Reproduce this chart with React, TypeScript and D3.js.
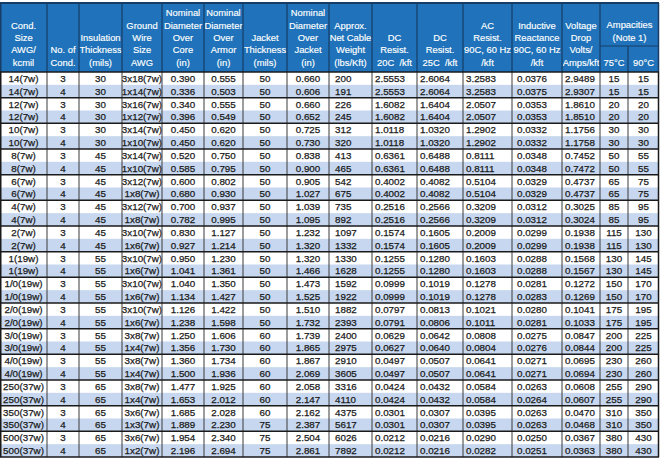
import React from "react";
import * as d3 from "d3";

// cable data, one entry per table row
const condSize = [
  "14(7w)", "14(7w)", "12(7w)", "12(7w)", "10(7w)", "10(7w)", "8(7w)", "8(7w)",
  "6(7w)", "6(7w)", "4(7w)", "4(7w)", "2(7w)", "2(7w)", "1(19w)", "1(19w)",
  "1/0(19w)", "1/0(19w)", "2/0(19w)", "2/0(19w)", "3/0(19w)", "3/0(19w)",
  "4/0(19w)", "4/0(19w)", "250(37w)", "250(37w)", "350(37w)", "350(37w)",
  "500(37w)", "500(37w)",
];
const numCond = [3, 4, 3, 4, 3, 4, 3, 4, 3, 4, 3, 4, 3, 4, 3, 4, 3, 4, 3, 4, 3, 4, 3, 4, 3, 4, 3, 4, 3, 4];
const insulation = [30, 30, 30, 30, 30, 30, 45, 45, 45, 45, 45, 45, 45, 45, 55, 55, 55, 55, 55, 55, 55, 55, 55, 55, 65, 65, 65, 65, 65, 65];
const groundWire = [
  "3x18(7w)", "1x14(7w)", "3x16(7w)", "1x12(7w)", "3x14(7w)", "1x10(7w)", "3x14(7w)", "1x10(7w)",
  "3x12(7w)", "1x8(7w)", "3x12(7w)", "1x8(7w)", "3x10(7w)", "1x6(7w)", "3x10(7w)", "1x6(7w)",
  "3x10(7w)", "1x6(7w)", "3x10(7w)", "1x6(7w)", "3x8(7w)", "1x4(7w)", "3x8(7w)", "1x4(7w)",
  "3x8(7w)", "1x4(7w)", "3x6(7w)", "1x3(7w)", "3x6(7w)", "1x2(7w)",
];
const diaCore = [0.390, 0.336, 0.340, 0.396, 0.450, 0.450, 0.520, 0.585, 0.600, 0.680, 0.700, 0.782, 0.830, 0.927, 0.950, 1.041, 1.040, 1.134, 1.126, 1.238, 1.250, 1.356, 1.360, 1.500, 1.477, 1.653, 1.685, 1.889, 1.954, 2.196];
const diaArmor = [0.555, 0.503, 0.555, 0.549, 0.620, 0.620, 0.750, 0.795, 0.802, 0.930, 0.937, 0.995, 1.127, 1.214, 1.230, 1.361, 1.350, 1.427, 1.422, 1.598, 1.606, 1.730, 1.734, 1.936, 1.925, 2.012, 2.028, 2.230, 2.340, 2.694];
const jacketThk = [50, 50, 50, 50, 50, 50, 50, 50, 50, 50, 50, 50, 50, 50, 50, 50, 50, 50, 50, 50, 60, 60, 60, 60, 60, 60, 60, 75, 75, 75];
const diaJacket = [0.660, 0.606, 0.660, 0.652, 0.725, 0.730, 0.838, 0.900, 0.905, 1.027, 1.039, 1.095, 1.232, 1.320, 1.320, 1.466, 1.473, 1.525, 1.510, 1.732, 1.739, 1.865, 1.867, 2.069, 2.058, 2.147, 2.162, 2.387, 2.504, 2.861];
const weight = [200, 191, 226, 245, 312, 320, 413, 465, 542, 675, 735, 892, 1097, 1332, 1330, 1628, 1592, 1922, 1882, 2393, 2400, 2975, 2910, 3605, 3316, 4110, 4375, 5617, 6026, 7892];
const dcRes20 = [2.5553, 2.5553, 1.6082, 1.6082, 1.0118, 1.0118, 0.6361, 0.6361, 0.4002, 0.4002, 0.2516, 0.2516, 0.1574, 0.1574, 0.1255, 0.1255, 0.0999, 0.0999, 0.0797, 0.0791, 0.0629, 0.0627, 0.0497, 0.0497, 0.0424, 0.0424, 0.0301, 0.0301, 0.0212, 0.0212];
const dcRes25 = [2.6064, 2.6064, 1.6404, 1.6404, 1.0320, 1.0320, 0.6488, 0.6488, 0.4082, 0.4082, 0.2566, 0.2566, 0.1605, 0.1605, 0.1280, 0.1280, 0.1019, 0.1019, 0.0813, 0.0806, 0.0642, 0.0640, 0.0507, 0.0507, 0.0432, 0.0432, 0.0307, 0.0307, 0.0216, 0.0216];
const acRes = [3.2583, 3.2583, 2.0507, 2.0507, 1.2902, 1.2902, 0.8111, 0.8111, 0.5104, 0.5104, 0.3209, 0.3209, 0.2009, 0.2009, 0.1603, 0.1603, 0.1278, 0.1278, 0.1021, 0.1011, 0.0808, 0.0804, 0.0641, 0.0641, 0.0584, 0.0584, 0.0395, 0.0395, 0.0290, 0.0282];
const reactance = [0.0376, 0.0375, 0.0353, 0.0353, 0.0332, 0.0332, 0.0348, 0.0348, 0.0329, 0.0329, 0.0312, 0.0312, 0.0299, 0.0299, 0.0288, 0.0288, 0.0281, 0.0283, 0.0280, 0.0281, 0.0275, 0.0276, 0.0271, 0.0271, 0.0263, 0.0264, 0.0263, 0.0263, 0.0250, 0.0251];
const vDrop = [2.9489, 2.9307, 1.8610, 1.8510, 1.1756, 1.1758, 0.7452, 0.7472, 0.4737, 0.4737, 0.3025, 0.3024, 0.1938, 0.1938, 0.1568, 0.1567, 0.1272, 0.1269, 0.1041, 0.1033, 0.0847, 0.0844, 0.0695, 0.0694, 0.0608, 0.0607, 0.0470, 0.0468, 0.0367, 0.0363];
const amp75 = [15, 15, 20, 20, 30, 30, 50, 50, 65, 65, 85, 85, 115, 115, 130, 130, 150, 150, 175, 175, 200, 200, 230, 230, 255, 255, 310, 310, 380, 380];
const amp90 = [15, 15, 20, 20, 30, 30, 55, 55, 75, 75, 95, 95, 130, 130, 145, 145, 170, 170, 195, 195, 225, 225, 260, 260, 290, 290, 350, 350, 430, 430];

const headerLines = [
  ["Cond.", "Size", "AWG/", "kcmil"],
  ["No. of", "Cond."],
  ["Insulation", "Thickness", "(mils)"],
  ["Ground", "Wire", "Size", "AWG"],
  ["Nominal", "Diameter", "Over", "Core", "(in)"],
  ["Nominal", "Diameter", "Over", "Armor", "(in)"],
  ["Jacket", "Thickness", "(mils)"],
  ["Nominal", "Diameter", "Over", "Jacket", "(in)"],
  ["Approx.", "Net Cable", "Weight", "(lbs/Kft)"],
  ["DC", "Resist.", "20C  /kft"],
  ["DC", "Resist.", "25C  /kft"],
  ["AC", "Resist.", "90C, 60 Hz", "/kft"],
  ["Inductive", "Reactance", "90C, 60 Hz", "/kft"],
  ["Voltage", "Drop", "Volts/", "Amps/kft"],
  ["75°C"],
  ["90°C"],
];
const groupTitle = ["Ampacities", "(Note 1)"];

const W = 660;
const H = 459;
const headTop = 3;
const groupLine = 46;
const headBottom = 72;
const tableBottom = 457;
const colEdges = [0, 47, 79, 122, 162, 204, 243, 287, 329, 372, 417, 463, 512, 562, 600, 628, 659];

const headBlue = "#2073ba";
const headLine = "#173c66";
const stripe = "#c6d7ef";
const ink = "#1a1a1a";

const str = (v) => String(v);
const f3 = d3.format(".3f");
const f4 = d3.format(".4f");
const fd = d3.format("d");

const columns = [
  {values: condSize, fmt: str, anchor: "middle", dx: 0},
  {values: numCond, fmt: fd, anchor: "middle", dx: 0},
  {values: insulation, fmt: fd, anchor: "middle", dx: 0},
  {values: groundWire, fmt: str, anchor: "middle", dx: 0},
  {values: diaCore, fmt: f3, anchor: "middle", dx: 0},
  {values: diaArmor, fmt: f3, anchor: "middle", dx: 0},
  {values: jacketThk, fmt: fd, anchor: "middle", dx: 0},
  {values: diaJacket, fmt: f3, anchor: "middle", dx: 0},
  {values: weight, fmt: fd, anchor: "start", dx: 6},
  {values: dcRes20, fmt: f4, anchor: "start", dx: 3},
  {values: dcRes25, fmt: f4, anchor: "start", dx: 3},
  {values: acRes, fmt: f4, anchor: "start", dx: 3},
  {values: reactance, fmt: f4, anchor: "start", dx: 5},
  {values: vDrop, fmt: f4, anchor: "start", dx: 3},
  {values: amp75, fmt: fd, anchor: "middle", dx: 0},
  {values: amp90, fmt: fd, anchor: "middle", dx: 0},
];

export default function App() {
  const rows = d3.range(condSize.length);
  const y = d3.scaleBand<number>().domain(rows).range([headBottom, tableBottom]);
  const cols = d3.pairs(colEdges);
  const lineStep = 12.3;
  const lastBase = 65.5;
  const right = colEdges[colEdges.length - 1];

  return (
    <svg width={W} height={H} style={{position: "absolute", left: 0, top: 0, background: "#fff"}}
         fontFamily="'Liberation Sans', Arial, sans-serif">
      {/* header block */}
      <rect x={0} y={headTop} width={right} height={headBottom - headTop} fill={headBlue}/>
      <g fill="#fff" fontSize={9.4} textAnchor="middle" stroke="#fff" strokeWidth={0.15}>
        {headerLines.map((lines, c) => {
          const [x0, x1] = cols[c];
          return lines.map((t, i) => (
            <text key={`${c}-${i}`} x={(x0 + x1) / 2} y={lastBase - (lines.length - 1 - i) * lineStep}
                  style={{whiteSpace: "pre"}}>{t}</text>
          ));
        })}
        {groupTitle.map((t, i) => (
          <text key={t} x={(cols[14][0] + cols[15][1]) / 2} y={28 + i * 12.5}>{t}</text>
        ))}
      </g>
      <g stroke={headLine} strokeWidth={1.2}>
        {colEdges.slice(1, -1).map((x, i) => (
          <line key={i} x1={x} x2={x} y1={i === 14 ? groupLine : headTop} y2={headBottom}/>
        ))}
        <line x1={cols[14][0]} x2={cols[15][1]} y1={groupLine} y2={groupLine}/>
        <line x1={0} x2={right} y1={headTop} y2={headTop} strokeWidth={2}/>
        <line x1={0.75} x2={0.75} y1={headTop} y2={headBottom} strokeWidth={1.5}/>
        <line x1={658.5} x2={658.5} y1={headTop} y2={headBottom} strokeWidth={1.5}/>
      </g>

      {/* striped body */}
      {rows.map(r => (
        <rect key={r} x={0} y={y(r)} width={right} height={y.bandwidth()}
              fill={r % 2 ? stripe : "#fff"}/>
      ))}
      <g fill={ink} fontSize={9.8} stroke={ink} strokeWidth={0.25}>
        {columns.map((col, c) => {
          const [x0, x1] = cols[c];
          const tx = col.anchor === "middle" ? (x0 + x1) / 2 : x0 + col.dx;
          return rows.map(r => (
            <text key={`${c}-${r}`} x={tx} y={y(r) + y.bandwidth() / 2 + 3.5} textAnchor={col.anchor}>
              {col.fmt(col.values[r])}
            </text>
          ));
        })}
      </g>
      <g stroke="#3a3a3a" strokeWidth={1}>
        {colEdges.slice(1, -1).map((x, i) => (
          <line key={i} x1={x} x2={x} y1={headBottom} y2={tableBottom}/>
        ))}
      </g>
      <g stroke="#1a1a1a">
        {rows.filter(r => r % 2 === 0).map(r => (
          <line key={r} x1={0} x2={right} y1={y(r)} y2={y(r)} strokeWidth={1.5}/>
        ))}
        <line x1={0} x2={right} y1={tableBottom} y2={tableBottom} strokeWidth={1.6}/>
        <line x1={0.75} x2={0.75} y1={headBottom} y2={tableBottom} strokeWidth={1.5}/>
        <line x1={658.5} x2={658.5} y1={headBottom} y2={tableBottom} strokeWidth={1.5}/>
      </g>
    </svg>
  );
}
